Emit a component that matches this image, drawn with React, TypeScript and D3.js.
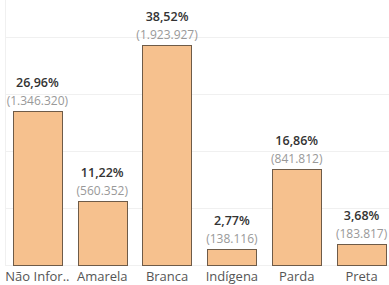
import { useEffect, useRef } from "react";
import * as d3 from "d3";

const categories = ["Não Infor..", "Amarela", "Branca", "Indígena", "Parda", "Preta"];
const counts = [1346320, 560352, 1923927, 138116, 841812, 183817];
const percents = ["26,96%", "11,22%", "38,52%", "2,77%", "16,86%", "3,68%"];
const gridTicks = [0, 500000, 1000000, 1500000, 2000000];

const FILL = "#F6C18E";
const STROKE = "#6E5B48";

export default function App() {
  const ref = useRef<SVGSVGElement>(null);

  useEffect(() => {
    if (!ref.current) return;
    const width = 389;
    const height = 285;

    const svg = d3.select(ref.current);
    svg.selectAll("*").remove();
    svg.attr("width", width).attr("height", height);

    const data = categories.map((c, i) => ({ cat: c, value: counts[i], pct: percents[i] }));

    const x = d3
      .scaleBand()
      .domain(categories)
      .range([5, 394])
      .paddingInner(0.24)
      .paddingOuter(0.12);

    const y = d3.scaleLinear().domain([0, 2000000]).range([265, 36.5]);

    // gridlines
    svg
      .append("g")
      .attr("stroke", "#f0f0f0")
      .selectAll("line")
      .data(gridTicks)
      .join("line")
      .attr("x1", 5)
      .attr("x2", width)
      .attr("y1", (d) => Math.round(y(d)) + 0.5)
      .attr("y2", (d) => Math.round(y(d)) + 0.5);

    // left axis line
    svg
      .append("line")
      .attr("x1", 5.5)
      .attr("x2", 5.5)
      .attr("y1", 0)
      .attr("y2", 265)
      .attr("stroke", "#f0f0f0");

    const fmt = (v: number) => "(" + d3.format(",")(v).replace(/,/g, ".") + ")";

    const g = svg.append("g").selectAll("g").data(data).join("g");

    g.append("rect")
      .attr("x", (d) => Math.round(x(d.cat) ?? 0) + 0.5)
      .attr("y", (d) => Math.round(y(d.value)) + 0.5)
      .attr("width", Math.round(x.bandwidth()))
      .attr("height", (d) => 265 - Math.round(y(d.value)))
      .attr("fill", FILL)
      .attr("stroke", STROKE)
      .attr("stroke-width", 1);

    g.append("text")
      .attr("x", (d) => (x(d.cat) ?? 0) + x.bandwidth() / 2)
      .attr("y", (d) => y(d.value) - 24)
      .attr("text-anchor", "middle")
      .attr("font-family", "Open Sans")
      .attr("font-weight", 600)
      .attr("font-size", 12.5)
      .attr("fill", "#333")
      .text((d) => d.pct);

    g.append("text")
      .attr("x", (d) => (x(d.cat) ?? 0) + x.bandwidth() / 2)
      .attr("y", (d) => y(d.value) - 6)
      .attr("text-anchor", "middle")
      .attr("font-family", "Open Sans")
      .attr("font-size", 12)
      .attr("fill", "#999")
      .text((d) => fmt(d.value));

    // category labels
    svg
      .append("g")
      .selectAll("text")
      .data(categories)
      .join("text")
      .attr("x", (d) => (x(d) ?? 0) + x.bandwidth() / 2)
      .attr("y", 281)
      .attr("text-anchor", "middle")
      .attr("font-family", "Open Sans")
      .attr("font-size", 13)
      .attr("fill", "#555")
      .text((d) => d);
  }, []);

  return (
    <div style={{ position: "fixed", left: 0, top: 0, background: "#fff" }}>
      <svg ref={ref} style={{ display: "block" }} />
    </div>
  );
}
